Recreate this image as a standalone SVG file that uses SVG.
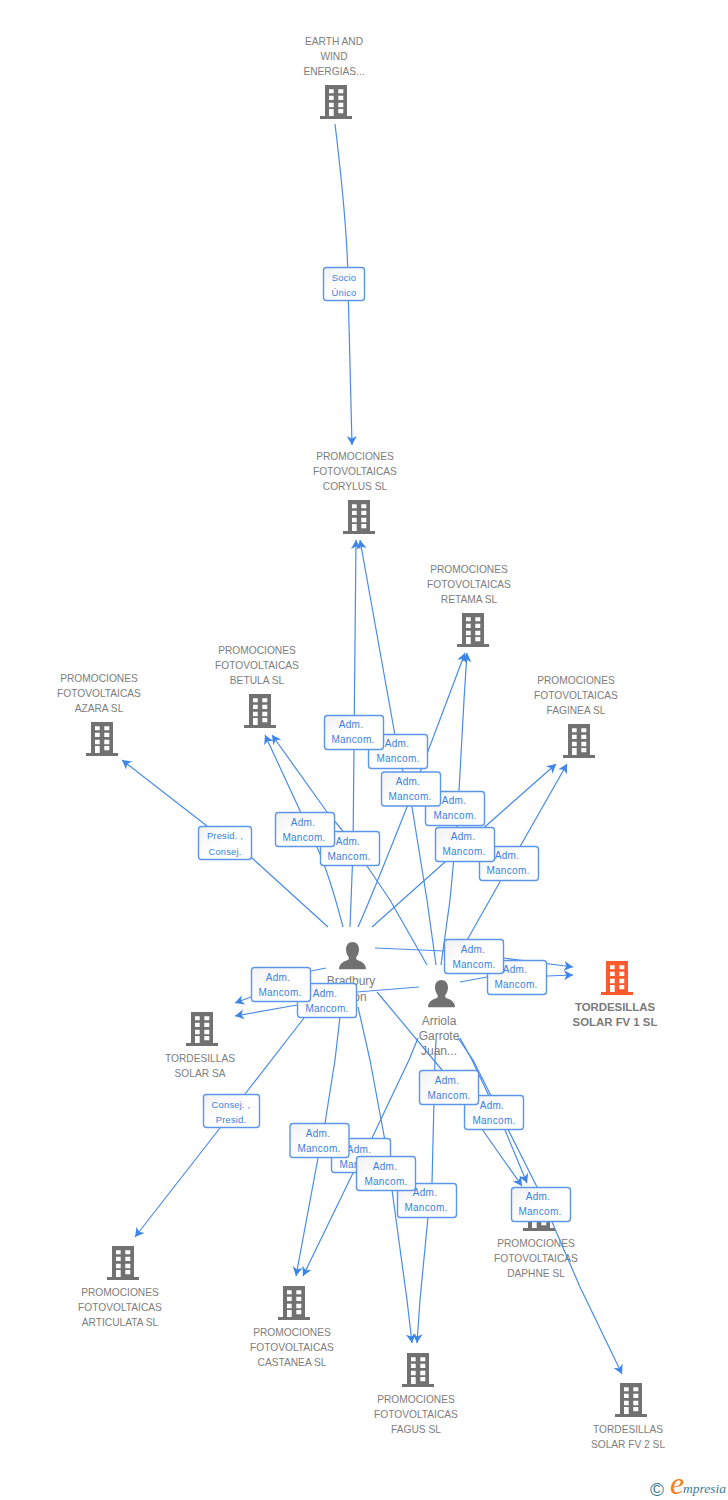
<svg xmlns="http://www.w3.org/2000/svg" width="728" height="1500" viewBox="0 0 728 1500">
<style>
text{font-family:"Liberation Sans",Arial,sans-serif}
.n{font-size:10.2px;fill:#7d7d7d;text-anchor:middle}
.p{font-size:12px;fill:#7d7d7d;text-anchor:middle}
.b{font-size:11.4px;font-weight:bold;fill:#7a7a7a;text-anchor:middle}
.t{font-size:10px;fill:#3a7fe0;text-anchor:middle;letter-spacing:.3px}
.s{font-size:9.400px;letter-spacing:.2px}
.box{fill:url(#g);stroke:#5b96e8;stroke-width:1.4}
.c path{fill:none;stroke:#4a8be8;stroke-width:1.2;marker-end:url(#a);stroke-linejoin:round}
</style>
<defs>
<linearGradient id="g" x1="0" y1="0" x2="1" y2="1"><stop offset="0" stop-color="#f1f1f1"/><stop offset=".5" stop-color="#fff"/></linearGradient>
<marker id="a" markerUnits="userSpaceOnUse" markerWidth="14" markerHeight="14" refX="12" refY="7" orient="auto"><path d="M12,7L3,2L5.500,7L3,12Z" fill="#3d86e8"/></marker>
<path id="bd" fill-rule="evenodd" d="M5,0H27V31H32V34H0V31H5ZM9,4.300V8.300H13.700V4.300ZM18.300,4.300V8.300H23.300V4.300ZM9,10.700V15H13.700V10.700ZM18.300,10.700V15H23.300V10.700ZM9,17.700V22.300H13.700V17.700ZM18.300,17.700V22.300H23.300V17.700ZM9,24V31H13.700V24ZM18.300,24V28.300H23.300V24Z"/>
<path id="pr" d="M13.500,0C17.500,0 20,3 20,7.500C20,11 18.500,13.500 17.300,15V17.500C20,19 27,20 27,27.300H0C0,20 7,19 9.700,17.500V15C8.500,13.500 7,11 7,7.500C7,3 9.500,0 13.500,0Z"/>
</defs>
<g id="node-earth"><use href="#bd" x="320" y="85" fill="#717171"/><text class="n" x="334" y="45">EARTH AND</text><text class="n" x="334" y="60">WIND</text><text class="n" x="334" y="75">ENERGIAS...</text></g>
<g id="node-corylus"><use href="#bd" x="343" y="500" fill="#717171"/><text class="n" x="355" y="460">PROMOCIONES</text><text class="n" x="355" y="475">FOTOVOLTAICAS</text><text class="n" x="355" y="490">CORYLUS SL</text></g>
<g id="node-retama"><use href="#bd" x="457" y="613" fill="#717171"/><text class="n" x="469" y="573">PROMOCIONES</text><text class="n" x="469" y="588">FOTOVOLTAICAS</text><text class="n" x="469" y="603">RETAMA SL</text></g>
<g id="node-betula"><use href="#bd" x="244" y="694" fill="#717171"/><text class="n" x="257" y="654">PROMOCIONES</text><text class="n" x="257" y="669">FOTOVOLTAICAS</text><text class="n" x="257" y="684">BETULA SL</text></g>
<g id="node-azara"><use href="#bd" x="86" y="722" fill="#717171"/><text class="n" x="99" y="682">PROMOCIONES</text><text class="n" x="99" y="697">FOTOVOLTAICAS</text><text class="n" x="99" y="712">AZARA SL</text></g>
<g id="node-faginea"><use href="#bd" x="563" y="724" fill="#717171"/><text class="n" x="576" y="684">PROMOCIONES</text><text class="n" x="576" y="699">FOTOVOLTAICAS</text><text class="n" x="576" y="714">FAGINEA SL</text></g>
<g id="node-fv1"><use href="#bd" x="601" y="961" fill="#ff5a2b"/><text class="b" x="615" y="1011">TORDESILLAS</text><text class="b" x="615" y="1026">SOLAR FV 1 SL</text></g>
<g id="node-sa"><use href="#bd" x="186" y="1012" fill="#717171"/><text class="n" x="200" y="1062">TORDESILLAS</text><text class="n" x="200" y="1077">SOLAR SA</text></g>
<g id="node-articulata"><use href="#bd" x="107" y="1246" fill="#717171"/><text class="n" x="120" y="1296">PROMOCIONES</text><text class="n" x="120" y="1311">FOTOVOLTAICAS</text><text class="n" x="120" y="1326">ARTICULATA SL</text></g>
<g id="node-castanea"><use href="#bd" x="278" y="1286" fill="#717171"/><text class="n" x="292" y="1336">PROMOCIONES</text><text class="n" x="292" y="1351">FOTOVOLTAICAS</text><text class="n" x="292" y="1366">CASTANEA SL</text></g>
<g id="node-fagus"><use href="#bd" x="402" y="1353" fill="#717171"/><text class="n" x="416" y="1403">PROMOCIONES</text><text class="n" x="416" y="1418">FOTOVOLTAICAS</text><text class="n" x="416" y="1433">FAGUS SL</text></g>
<g id="node-daphne"><use href="#bd" x="523" y="1197" fill="#717171"/><text class="n" x="536" y="1247">PROMOCIONES</text><text class="n" x="536" y="1262">FOTOVOLTAICAS</text><text class="n" x="536" y="1277">DAPHNE SL</text></g>
<g id="node-fv2"><use href="#bd" x="615" y="1383" fill="#717171"/><text class="n" x="628" y="1433">TORDESILLAS</text><text class="n" x="628" y="1448">SOLAR FV 2 SL</text></g>
<g id="node-bradbury"><use href="#pr" x="339" y="942" fill="#717171"/><text class="p" x="351" y="985">Bradbury</text><text class="p" x="360" y="1001">on</text></g>
<g id="node-arriola"><use href="#pr" x="428" y="980" fill="#717171"/><text class="p" x="439" y="1025">Arriola</text><text class="p" x="439" y="1040">Garrote</text><text class="p" x="439" y="1055">Juan...</text></g>
<g id="connectors" class="c">
<path d="M335,124C343,190 348,250 348,285L352,445"/>
<path d="M328,927L252,858L207,826L122,760"/>
<path d="M343,927C336,900 325,865 317,847L300.600,812L265,735"/>
<path d="M350,927L353,850L356,540"/>
<path d="M436,965L427,900L412,807L398,752L360,540"/>
<path d="M358,927C368,905 390,850 407,807L465,653"/>
<path d="M441,965L450,900L457,825L459,791L464,700L467,653"/>
<path d="M427,965L390,900L367,866L342,830L327,812L272,735"/>
<path d="M372,927L445,862L556,764"/>
<path d="M466,942L501,880L567,764"/>
<path d="M375,948L444,951L504,958L573,967"/>
<path d="M460,982L487,977L547,976L573,975"/>
<path d="M326,968L311,971L251,997L235,1003"/>
<path d="M419,987L357,992L297,1005L235,1016"/>
<path d="M330,985L304,1018L245,1094L220,1128L135,1237"/>
<path d="M341,1008L335,1060L325,1123L318,1158L296,1276"/>
<path d="M418,1038L409,1060L372,1138L353,1173L303,1276"/>
<path d="M358,1007L370,1060L388,1157L392,1190L407,1300L412,1343"/>
<path d="M436,1040L435,1060L432,1183L428,1217L420,1300L417,1343"/>
<path d="M377,992L442,1070L465,1105L522,1186"/>
<path d="M460,1038L472,1060L505,1130L527,1183"/>
<path d="M458,1038L473,1060L537,1187L552,1222L580,1287L622,1374"/>
</g>
<g id="tags">
<g><rect class="box" x="323.500" y="267.500" width="41" height="33" rx="3"/><text class="t s" x="344" y="281">Socio</text><text class="t s" x="344" y="296">Único</text></g>
<g><rect class="box" x="198.500" y="826.500" width="53" height="33" rx="3"/><text class="t s" x="225" y="839">Presid. ,</text><text class="t s" x="225" y="855">Consej.</text></g>
<g><rect class="box" x="203.500" y="1094.500" width="56" height="33" rx="3"/><text class="t s" x="231" y="1108">Consej. ,</text><text class="t s" x="231" y="1123">Presid.</text></g>
<g><rect class="box" x="368.500" y="734.500" width="59" height="34" rx="3"/><text class="t" x="397" y="747">Adm.</text><text class="t" x="398" y="762">Mancom.</text></g>
<g><rect class="box" x="324.500" y="715.500" width="59" height="34" rx="3"/><text class="t" x="351" y="728">Adm.</text><text class="t" x="353" y="743">Mancom.</text></g>
<g><rect class="box" x="425.500" y="791.500" width="59" height="34" rx="3"/><text class="t" x="454" y="804">Adm.</text><text class="t" x="455" y="819">Mancom.</text></g>
<g><rect class="box" x="381.500" y="772" width="59" height="34" rx="3"/><text class="t" x="408" y="785">Adm.</text><text class="t" x="410" y="800">Mancom.</text></g>
<g><rect class="box" x="320.500" y="831.500" width="59" height="34" rx="3"/><text class="t" x="348" y="845">Adm.</text><text class="t" x="349" y="860">Mancom.</text></g>
<g><rect class="box" x="275.500" y="812.500" width="59" height="34" rx="3"/><text class="t" x="303" y="826">Adm.</text><text class="t" x="304" y="841">Mancom.</text></g>
<g><rect class="box" x="479.500" y="846.500" width="59" height="34" rx="3"/><text class="t" x="507" y="859">Adm.</text><text class="t" x="508" y="874">Mancom.</text></g>
<g><rect class="box" x="435.500" y="827.500" width="59" height="34" rx="3"/><text class="t" x="463" y="840">Adm.</text><text class="t" x="464" y="855">Mancom.</text></g>
<g><rect class="box" x="487.500" y="960.500" width="59" height="34" rx="3"/><text class="t" x="515" y="973">Adm.</text><text class="t" x="516" y="988">Mancom.</text></g>
<g><rect class="box" x="444.500" y="939.500" width="59" height="34" rx="3"/><text class="t" x="473" y="953">Adm.</text><text class="t" x="474" y="968">Mancom.</text></g>
<g><rect class="box" x="297.500" y="983.500" width="59" height="34" rx="3"/><text class="t" x="325" y="997">Adm.</text><text class="t" x="327" y="1012">Mancom.</text></g>
<g><rect class="box" x="251.500" y="967.500" width="59" height="34" rx="3"/><text class="t" x="278" y="981">Adm.</text><text class="t" x="280" y="996">Mancom.</text></g>
<g><rect class="box" x="464.500" y="1095.500" width="59" height="34" rx="3"/><text class="t" x="492" y="1109">Adm.</text><text class="t" x="494" y="1124">Mancom.</text></g>
<g><rect class="box" x="419.500" y="1070.500" width="59" height="34" rx="3"/><text class="t" x="447" y="1084">Adm.</text><text class="t" x="449" y="1099">Mancom.</text></g>
<g><rect class="box" x="331.500" y="1138.500" width="59" height="34" rx="3"/><text class="t" x="359" y="1153">Adm.</text><text class="t" x="361" y="1168">Mancom.</text></g>
<g><rect class="box" x="397.500" y="1183.500" width="59" height="34" rx="3"/><text class="t" x="425" y="1196">Adm.</text><text class="t" x="426" y="1211">Mancom.</text></g>
<g><rect class="box" x="290" y="1123.500" width="59" height="34" rx="3"/><text class="t" x="318" y="1137">Adm.</text><text class="t" x="319" y="1152">Mancom.</text></g>
<g><rect class="box" x="356.500" y="1156.500" width="59" height="34" rx="3"/><text class="t" x="385" y="1170">Adm.</text><text class="t" x="386" y="1185">Mancom.</text></g>
<g><rect class="box" x="511.500" y="1187.500" width="59" height="34" rx="3"/><text class="t" x="538" y="1200">Adm.</text><text class="t" x="540" y="1215">Mancom.</text></g>
</g>
<g id="logo"><text x="650" y="1496" style="font-size:19px;fill:#3d7a94">©</text><text x="670" y="1494" style="font-family:'Liberation Serif',serif;font-style:italic;font-size:32px;fill:#f08020">e</text><text x="683" y="1493" style="font-family:'Liberation Serif',serif;font-style:italic;font-size:13.500px;fill:#3d7a94">mpresia</text></g>
</svg>
